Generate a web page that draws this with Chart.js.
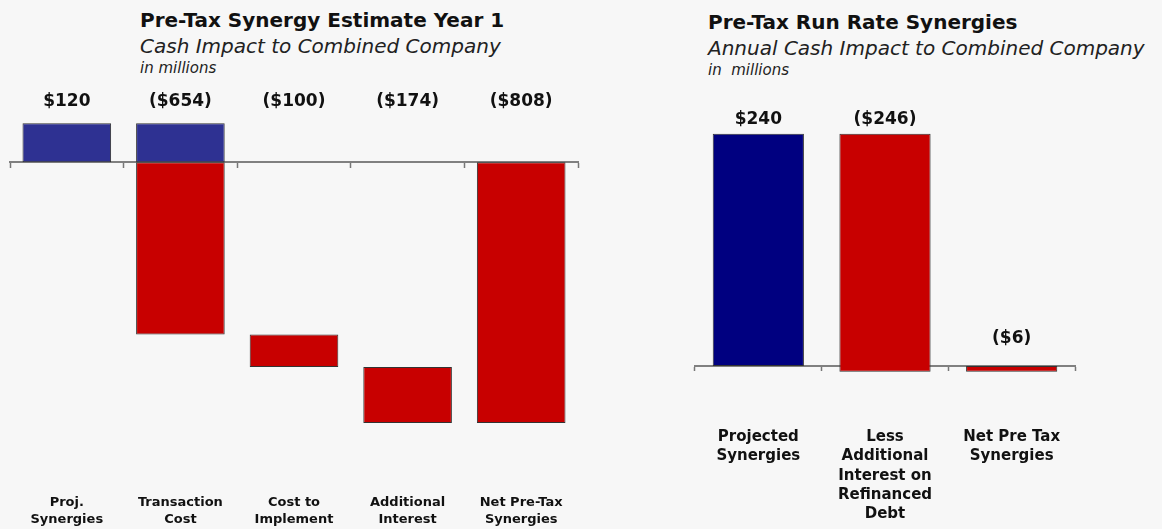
<!DOCTYPE html>
<html>
<head>
<meta charset="utf-8">
<script src="https://cdn.jsdelivr.net/npm/chart.js@4/dist/chart.umd.min.js"></script>
<style>
  body { margin: 0; background: #f7f7f7; width: 1162px; height: 529px; overflow: hidden; position: relative; font-family: "DejaVu Sans", Verdana, sans-serif; color: #111; }
  .ttl { position: absolute; white-space: nowrap; }
  .ttl .t1 { font-weight: bold; font-size: 20px; line-height: 26px; }
  .ttl .t2 { font-style: italic; font-size: 20px; line-height: 26px; color: #222; }
  .ttl .t3 { font-style: italic; font-size: 15px; line-height: 18px; color: #222; }
  #leftWrap { position: absolute; left: 0; top: 0; width: 580px; height: 529px; }
  #rightWrap { position: absolute; left: 580px; top: 0; width: 582px; height: 529px; }
</style>
</head>
<body>
<div class="ttl" style="left:140px; top:7px;">
  <div class="t1">Pre-Tax Synergy Estimate Year 1</div>
  <div class="t2">Cash Impact to Combined Company</div>
  <div class="t3">in millions</div>
</div>
<div class="ttl" style="left:708px; top:9px;">
  <div class="t1">Pre-Tax Run Rate Synergies</div>
  <div class="t2">Annual Cash Impact to Combined Company</div>
  <div class="t3">in&nbsp; millions</div>
</div>
<div id="leftWrap"><canvas id="left"></canvas></div>
<div id="rightWrap"><canvas id="right"></canvas></div>
<script>
// left chart: year 1 waterfall
const leftCats = [['Proj.', 'Synergies'], ['Transaction', 'Cost'], ['Cost to', 'Implement'], ['Additional', 'Interest'], ['Net Pre-Tax', 'Synergies']]
const leftValues = [120, -654, -100, -174, -808]
const leftValueLabels = ['$120', '($654)', '($100)', '($174)', '($808)']

// right chart: run rate
const rightCats = [['Projected', 'Synergies'], ['Less', 'Additional', 'Interest on', 'Refinanced', 'Debt'], ['Net Pre Tax', 'Synergies']]
const rightValues = [240, -246, -6]
const rightValueLabels = ['$240', '($246)', '($6)']

const FONT = '"DejaVu Sans", Verdana, sans-serif'
const RED = '#c80000'
const EDGE = '#333'

// steps float from the running total, last bar is the total from zero
function waterfall(values) {
  let cum = 0
  return values.map((v, i) => {
    if (i === values.length - 1) return [0, v]
    const r = [cum, cum + v]
    cum += v
    return r
  })
}

const leftRanges = waterfall(leftValues)
const leftPos = leftRanges.map(r => Math.max(r[0], r[1]) > 0 ? [Math.max(0, Math.min(r[0], r[1])), Math.max(r[0], r[1])] : null)
const leftNeg = leftRanges.map(r => Math.min(r[0], r[1]) < 0 ? [Math.min(r[0], r[1]), Math.min(0, Math.max(r[0], r[1]))] : null)

const zeroAxis = (labels, len) => ({
  type: 'category',
  labels: labels,
  position: {y: 0},
  offset: true,
  grid: {drawOnChartArea: false, offset: true, tickLength: len, color: '#777', tickWidth: 1.5},
  border: {display: true, color: '#808080', width: 2},
  ticks: {display: false}
})

new Chart(document.getElementById('left'), {
  type: 'bar',
  data: {
    labels: leftCats,
    datasets: [
      {data: leftNeg, backgroundColor: RED, borderColor: EDGE, borderWidth: 1, borderSkipped: false},
      {data: leftPos, backgroundColor: '#2e3192', borderColor: EDGE, borderWidth: 1, borderSkipped: false}
    ]
  },
  options: {
    responsive: true,
    maintainAspectRatio: false,
    animation: false,
    layout: {padding: {left: 10, right: 2, top: 88, bottom: -2}},
    datasets: {bar: {grouped: false, categoryPercentage: 1, barPercentage: 0.78}},
    plugins: {legend: {display: false}, tooltip: {enabled: false}},
    scales: {
      x: {
        offset: true,
        grid: {display: false},
        border: {display: false},
        ticks: {color: '#111', maxRotation: 0, autoSkip: false, font: {family: FONT, size: 13, weight: 'bold', lineHeight: 1.3}}
      },
      xTop: {
        type: 'category',
        labels: leftValueLabels,
        position: 'top',
        offset: true,
        grid: {display: false},
        border: {display: false},
        ticks: {color: '#111', font: {family: FONT, size: 17, weight: 'bold'}}
      },
      xZero: zeroAxis(leftCats, 5),
      y: {display: false, min: -994, max: 123}
    }
  }
})

const rightRanges = waterfall(rightValues)
const rightColors = rightValues.map((v, i) => i === 0 ? '#000080' : RED)

const barLabels = {
  id: 'barLabels',
  afterDatasetsDraw(chart) {
    const {ctx, scales: {x, y}} = chart
    ctx.save()
    ctx.font = 'bold 17px ' + FONT
    ctx.fillStyle = '#111'
    ctx.textAlign = 'center'
    ctx.textBaseline = 'bottom'
    rightRanges.forEach((r, i) => {
      const top = Math.max(r[0], r[1])
      const gap = top > 0 ? 6 : 19
      ctx.fillText(rightValueLabels[i], x.getPixelForValue(i), y.getPixelForValue(top) - gap)
    })
    ctx.restore()
  }
}

new Chart(document.getElementById('right'), {
  type: 'bar',
  data: {
    labels: rightCats,
    datasets: [
      {data: rightRanges, backgroundColor: rightColors, borderColor: EDGE, borderWidth: 1, borderSkipped: false}
    ]
  },
  options: {
    responsive: true,
    maintainAspectRatio: false,
    animation: false,
    layout: {padding: {left: 115, right: 87, top: 100, bottom: 2}},
    datasets: {bar: {categoryPercentage: 1, barPercentage: 0.72}},
    plugins: {legend: {display: false}, tooltip: {enabled: false}},
    scales: {
      x: {
        offset: true,
        grid: {display: false},
        border: {display: false},
        ticks: {color: '#111', maxRotation: 0, autoSkip: false, font: {family: FONT, size: 15, weight: 'bold', lineHeight: 1.29}}
      },
      xZero: zeroAxis(rightCats, 4),
      y: {display: false, min: -52, max: 275}
    }
  },
  plugins: [barLabels]
})
</script>
</body>
</html>
